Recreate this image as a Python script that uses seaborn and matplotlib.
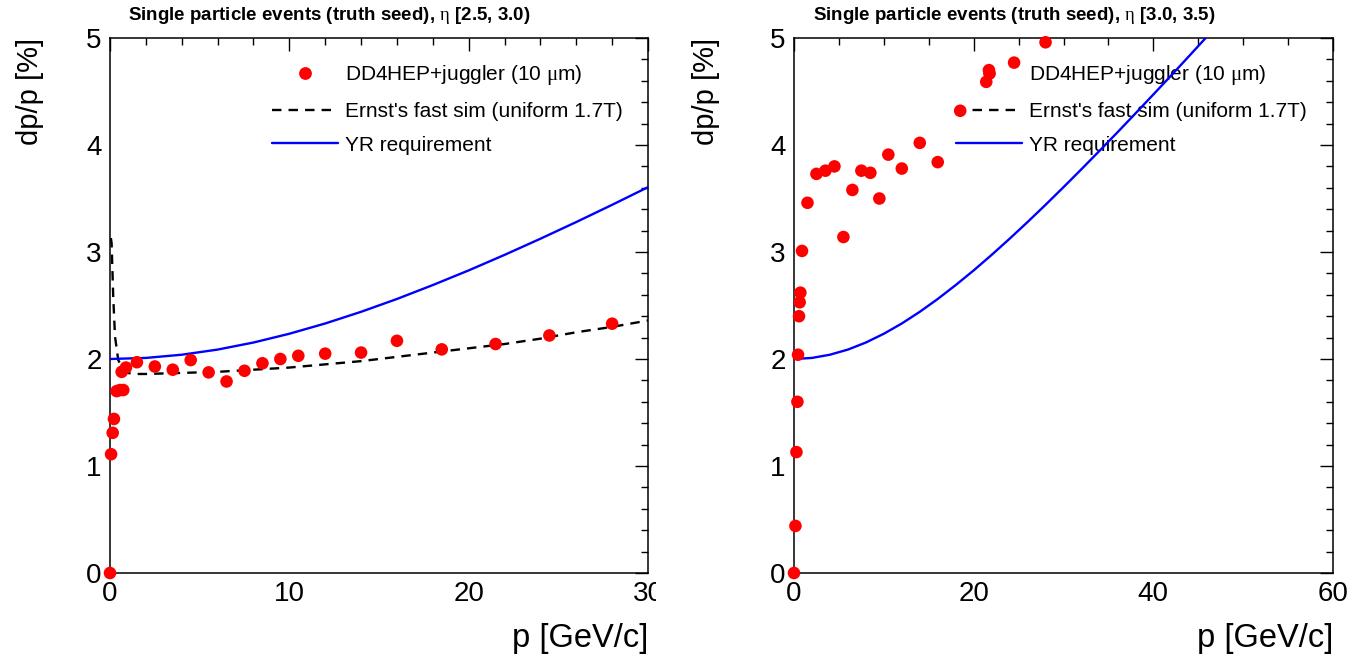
import matplotlib
matplotlib.use("Agg")
import matplotlib.pyplot as plt
import seaborn as sns
import pandas as pd
from matplotlib.ticker import MultipleLocator
from matplotlib.lines import Line2D
from matplotlib.transforms import Bbox, TransformedBbox

# ---------------- data ----------------
left_p = [0.0, 0.06, 0.15, 0.22, 0.37, 0.56, 0.74, 0.65, 0.89, 1.5, 2.5, 3.5,
          4.5, 5.5, 6.5, 7.5, 8.5, 9.5, 10.5, 12.0, 14.0, 16.0, 18.5, 21.5,
          24.5, 28.0]
left_dpp = [0.0, 1.11, 1.31, 1.44, 1.70, 1.71, 1.71, 1.88, 1.92, 1.97, 1.93,
            1.90, 1.99, 1.875, 1.79, 1.89, 1.96, 2.0, 2.03, 2.05, 2.06, 2.17,
            2.09, 2.14, 2.22, 2.33]

right_p = [0.0, 0.16, 0.27, 0.38, 0.45, 0.56, 0.63, 0.71, 0.89, 1.5, 2.5, 3.5,
           4.5, 5.5, 6.5, 7.5, 8.5, 9.5, 10.5, 12.0, 14.0, 16.0, 18.5, 21.4,
           21.7, 24.5, 28.0]
right_dpp = [0.0, 0.44, 1.13, 1.60, 2.04, 2.40, 2.53, 2.62, 3.01, 3.46, 3.73,
             3.76, 3.80, 3.14, 3.58, 3.76, 3.74, 3.50, 3.91, 3.78, 4.02, 3.84,
             4.32, 4.59, 4.70, 4.77, 4.96]

ernst_p = [0.05, 0.09, 0.18, 0.28, 0.46, 0.65, 0.93, 1.5, 2.0, 3.0, 4.0, 6.0,
           8.0, 10.0, 12.0, 14.0, 16.0, 18.0, 20.0, 22.0, 24.0, 26.0, 28.0, 30.0]
ernst_dpp = [3.13, 3.08, 2.58, 2.21, 1.99, 1.93, 1.87, 1.86, 1.86, 1.865, 1.87,
             1.88, 1.90, 1.92, 1.95, 1.98, 2.02, 2.06, 2.10, 2.14, 2.19, 2.25,
             2.30, 2.36]

yr_p = [0, 2, 4, 6, 8, 10, 12, 14, 16, 18, 20, 22, 24, 26, 28, 30, 32, 34, 36,
        38, 40, 42, 44, 46, 48]
yr_dpp = [2.000, 2.010, 2.040, 2.088, 2.154, 2.236, 2.332, 2.441, 2.561, 2.691,
          2.828, 2.973, 3.124, 3.280, 3.441, 3.606, 3.774, 3.945, 4.118, 4.294,
          4.472, 4.651, 4.833, 5.016, 5.200]

titles = [r"Single particle events (truth seed), $\mathrm{\eta}$ [2.5, 3.0)",
          r"Single particle events (truth seed), $\mathrm{\eta}$ [3.0, 3.5)"]
legend_labels = [r"DD4HEP+juggler (10 $\mathrm{\mu}$m)",
                 "Ernst's fast sim (uniform 1.7T)",
                 "YR requirement"]
xlabel = "p [GeV/c]"
ylabel = "dp/p [%]"

# ---------------- style ----------------
sns.set_style("white")
plt.rcParams['font.family'] = ['Liberation Sans', 'DejaVu Sans']
plt.rcParams['mathtext.fontset'] = 'custom'
plt.rcParams['mathtext.rm'] = 'Liberation Serif'
plt.rcParams['mathtext.it'] = 'Liberation Serif:italic'
plt.rcParams['mathtext.bf'] = 'Liberation Serif:bold'
plt.rcParams['text.color'] = 'black'
plt.rcParams['axes.labelcolor'] = 'black'
plt.rcParams['xtick.color'] = 'black'
plt.rcParams['ytick.color'] = 'black'

W, H = 1352, 659
fig = plt.figure(figsize=(W / 100, H / 100), dpi=100)

def fx(px):
    return px / W

def fy(py):
    return 1 - py / H

ax_l = fig.add_axes([fx(110), fy(573), fx(648) - fx(110), fy(38) - fy(573)])
ax_r = fig.add_axes([fx(794), fy(573), fx(1333) - fx(794), fy(38) - fy(573)])

left_df = pd.DataFrame({"p": left_p, "dpp": left_dpp})
right_df = pd.DataFrame({"p": right_p, "dpp": right_dpp})
ernst_df = pd.DataFrame({"p": ernst_p, "dpp": ernst_dpp})
yr_df = pd.DataFrame({"p": yr_p, "dpp": yr_dpp})

RED = "#ff0000"
BLUE = "#0000ff"

# left panel
sns.lineplot(data=ernst_df, x="p", y="dpp", ax=ax_l, color="black", lw=1.7,
             linestyle=(0, (4, 3)), estimator=None, sort=False, zorder=3)
sns.lineplot(data=yr_df, x="p", y="dpp", ax=ax_l, color=BLUE, lw=1.7,
             estimator=None, sort=False, zorder=3)
sns.scatterplot(data=left_df, x="p", y="dpp", ax=ax_l, color=RED, s=82,
                edgecolor="none", linewidth=0, clip_on=False, zorder=4,
                legend=False)

# right panel
sns.lineplot(data=yr_df, x="p", y="dpp", ax=ax_r, color=BLUE, lw=1.7,
             estimator=None, sort=False, zorder=3)
sns.scatterplot(data=right_df, x="p", y="dpp", ax=ax_r, color=RED, s=82,
                edgecolor="none", linewidth=0, clip_on=False, zorder=4,
                legend=False)

ax_l.set_xlim(0, 30)
ax_r.set_xlim(0, 60)
for ax in (ax_l, ax_r):
    ax.set_ylim(0, 5)
    ax.set_xlabel("")
    ax.set_ylabel("")
    ax.yaxis.set_major_locator(MultipleLocator(1))
    ax.yaxis.set_minor_locator(MultipleLocator(0.2))
    ax.tick_params(which="both", direction="in", top=True, right=True,
                   colors="black", labelcolor="black", labelsize=20, width=1.0)
    ax.tick_params(which="major", length=9.5, pad=6)
    ax.tick_params(which="minor", length=5)
    for s in ax.spines.values():
        s.set_color("black")
        s.set_linewidth(1.1)
    ax.set_facecolor("white")

ax_l.xaxis.set_major_locator(MultipleLocator(10))
ax_l.xaxis.set_minor_locator(MultipleLocator(2))
ax_r.xaxis.set_major_locator(MultipleLocator(20))
ax_r.xaxis.set_minor_locator(MultipleLocator(5))

# clip left-panel tick labels at the pad border (like the ROOT canvas)
fig.canvas.draw()
clip = TransformedBbox(Bbox([[0, 0], [656 / W, 1]]), fig.transFigure)
for lab in ax_l.get_xticklabels():
    lab.set_clip_box(clip)
    lab.set_clip_on(True)

# legends
handles = [
    Line2D([], [], color=RED, marker="o", markersize=9.2, linestyle="none",
           markeredgewidth=0),
    Line2D([], [], color="black", lw=1.7, linestyle=(0, (4, 3))),
    Line2D([], [], color=BLUE, lw=1.7),
]
for ax in (ax_l, ax_r):
    leg = ax.legend(handles, legend_labels, loc="upper left",
                    bbox_to_anchor=(162 / 538, 0.953), frameon=False,
                    fontsize=15, handlelength=3.15, handletextpad=0.35,
                    labelspacing=0.71, borderpad=0, borderaxespad=0)
    leg.set_zorder(1)

# titles
fig.text(fx(128), fy(15), titles[0], fontsize=13.5, fontweight="bold",
         ha="left", va="center")
fig.text(fx(813), fy(15), titles[1], fontsize=13.5, fontweight="bold",
         ha="left", va="center")

# axis titles (ROOT-style, aligned to the axis ends)
for xl, xr in ((30, 648), (706, 1333)):
    fig.text(fx(xl), fy(38), ylabel, rotation=90, fontsize=21,
             ha="center", va="top")
    fig.text(fx(xr), fy(638), xlabel, fontsize=23.5, ha="right",
             va="center")

fig.savefig("out.png", dpi=100, facecolor="white")
